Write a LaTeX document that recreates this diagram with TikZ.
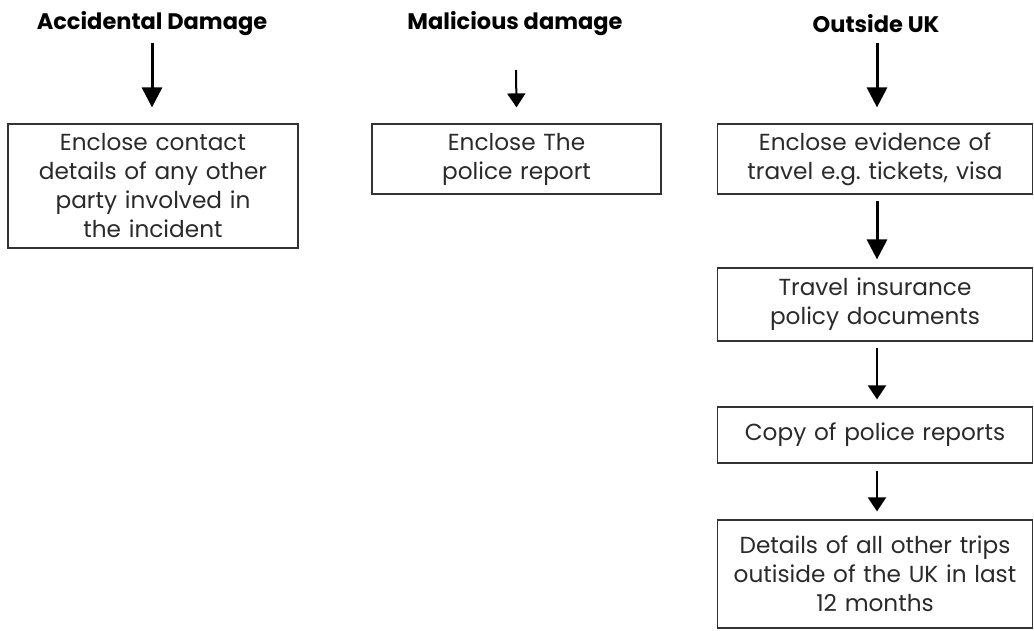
\documentclass[tikz,border=0pt]{standalone}
\usepackage{fontspec}
\setmainfont{Poppins}
\usetikzlibrary{arrows.meta}
\frenchspacing
\definecolor{boxline}{HTML}{333333}
\definecolor{txt}{HTML}{2A2A2A}
\tikzset{
  title/.style={font=\fontsize{22.5}{26}\selectfont\bfseries, text=black, inner sep=0pt, anchor=center},
  stepbox/.style={draw=boxline, line width=1.2pt, align=center, text=txt, inner sep=0pt,
    font=\fontsize{23.2}{29}\selectfont},
  bigarr/.style={line width=3pt, -{Triangle[width=20pt,length=20pt]}},
  smallarr/.style={line width=2pt, -{Triangle[width=18pt,length=14pt]}},
}
\begin{document}
\begin{tikzpicture}[x=1pt,y=-1pt]
\useasboundingbox (0,0) rectangle (1034,630);
% titles
\node[title] (t1) at (152,24) {Accidental Damage};
\node[title] (t2) at (515,24) {Malicious damage};
\node[title] (t3) at (876,24) {Outside UK};
% boxes
\node[stepbox, minimum width=290pt, minimum height=124pt, text width=285pt] (b1) at (153,186)
  {Enclose contact\\details of any other\\party involved in\\the incident};
\node[stepbox, minimum width=289pt, minimum height=70pt, text width=284pt] (b2) at (516.5,159)
  {Enclose The\\police report};
\node[stepbox, minimum width=315pt, minimum height=70pt, text width=310pt] (c1) at (875,159)
  {Enclose evidence of\\travel e.g. tickets, visa};
\node[stepbox, minimum width=315pt, minimum height=73pt, text width=310pt] (c2) at (875,304.5)
  {Travel insurance\\policy documents};
\node[stepbox, minimum width=315pt, minimum height=56pt, text width=310pt] (c3) at (875,435)
  {Copy of police reports};
\node[stepbox, minimum width=315pt, minimum height=108pt, text width=310pt] (c4) at (875,574)
  {Details of all other trips\\outiside of the UK in last\\12 months};
% connectors (yshift > 0 moves up on the page)
\draw[bigarr] ([yshift=-19pt]t1.center) -- ([xshift=-1pt,yshift=16pt]b1.north);
\draw[smallarr] ([xshift=1pt,yshift=-46pt]t2.center) -- ([yshift=16pt]b2.north);
\draw[bigarr] ([xshift=1pt,yshift=-19pt]t3.center) -- ([xshift=2pt,yshift=16pt]c1.north);
\draw[bigarr] ([xshift=2pt,yshift=-6pt]c1.south) -- ([xshift=2pt,yshift=8pt]c2.north);
\draw[smallarr] ([xshift=2pt,yshift=-6pt]c2.south) -- ([xshift=2pt,yshift=7pt]c3.north);
\draw[smallarr] ([xshift=2pt,yshift=-7pt]c3.south) -- ([xshift=2pt,yshift=8pt]c4.north);
\end{tikzpicture}
\end{document}
